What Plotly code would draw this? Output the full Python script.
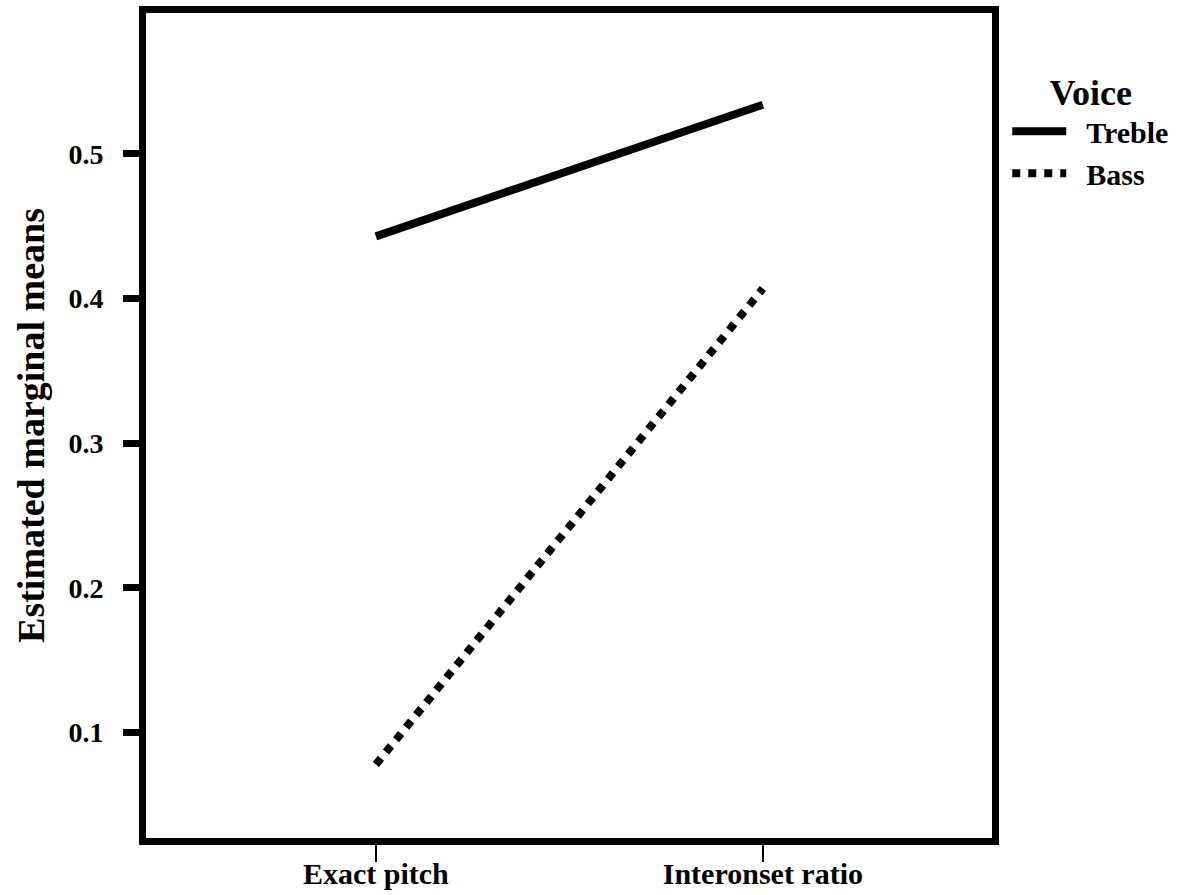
import plotly.graph_objects as go

# Estimated marginal means by task and voice
tasks = ["Exact pitch", "Interonset ratio"]
treble = [0.443, 0.534]
bass = [0.078, 0.407]
y_ticks = [0.1, 0.2, 0.3, 0.4, 0.5]

font_family = "Liberation Serif"
pad = "&nbsp;&nbsp;"

fig = go.Figure()
fig.add_trace(go.Scatter(
    x=[0, 1], y=treble, mode="lines", name=f"{pad}<b>Treble</b>",
    line=dict(color="black", width=8, dash="solid"),
))
fig.add_trace(go.Scatter(
    x=[0, 1], y=bass, mode="lines", name=f"{pad}<b>Bass</b>",
    line=dict(color="black", width=8, dash="dot"),
))

fig.update_layout(
    width=1196, height=895,
    margin=dict(l=146, r=204, t=13, b=57),
    plot_bgcolor="white", paper_bgcolor="white",
    font=dict(family=font_family, size=30, color="black"),
    showlegend=True,
    legend=dict(
        title=dict(text="<b>Voice</b>", side="top center",
                   font=dict(family=font_family, size=36)),
        x=1.018, xanchor="left", y=0.945, yanchor="top",
        font=dict(family=font_family, size=30),
        bgcolor="rgba(0,0,0,0)", tracegroupgap=0,
        itemwidth=54,
    ),
    xaxis=dict(
        range=[-0.594, 1.592],
        tickmode="array", tickvals=[0, 1],
        ticktext=[f"<b>{t}</b>" for t in tasks],
        ticks="outside", ticklen=17, tickwidth=2, tickcolor="black",
        showline=True, linewidth=7, linecolor="black", mirror=True,
        showgrid=False, zeroline=False, automargin=False,
        tickfont=dict(family=font_family, size=30),
        ticklabelstandoff=-14,
    ),
    yaxis=dict(
        range=[0.0272, 0.5974],
        tickmode="array", tickvals=y_ticks,
        ticktext=[f"<b>{v:.1f}</b>" for v in y_ticks],
        ticks="outside", ticklen=16, tickwidth=7, tickcolor="black",
        showline=True, linewidth=7, linecolor="black", mirror=True,
        showgrid=False, zeroline=False, automargin=False,
        tickfont=dict(family=font_family, size=28),
        ticklabelstandoff=14,
        title=dict(text="<b>Estimated marginal means</b>",
                   font=dict(family=font_family, size=38)),
    ),
)

fig.write_html("out.html")
